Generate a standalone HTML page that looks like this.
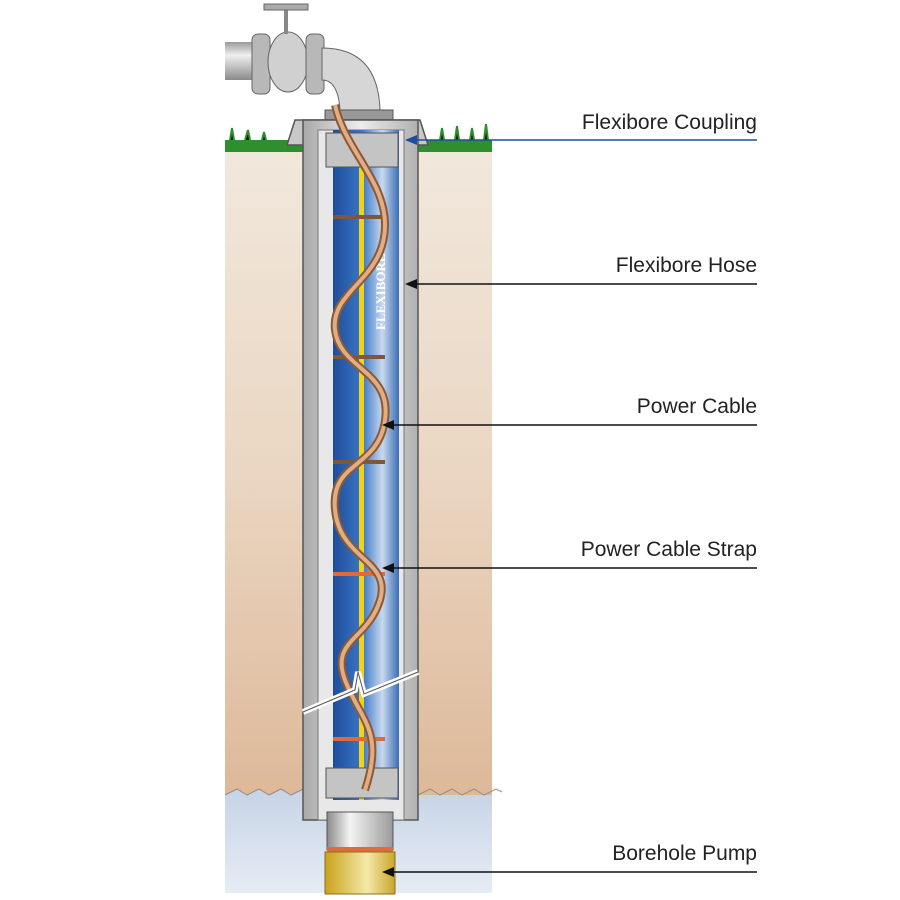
<!DOCTYPE html>
<html><head><style>
body{margin:0;background:#fff;}
svg{display:block;}
text{font-family:"Liberation Sans",sans-serif;font-size:21px;fill:#222;}
</style></head><body>
<svg width="900" height="900" viewBox="0 0 900 900">
<defs>
<linearGradient id="metal" x1="0" x2="1">
<stop offset="0" stop-color="#8a8a8a"/><stop offset="0.35" stop-color="#f4f4f4"/><stop offset="1" stop-color="#9a9a9a"/></linearGradient>
<linearGradient id="pipe" x1="0" y1="0" x2="0" y2="1">
<stop offset="0" stop-color="#9a9a9a"/><stop offset="0.35" stop-color="#f0f0f0"/><stop offset="1" stop-color="#8a8a8a"/></linearGradient>
<linearGradient id="casing" x1="0" x2="1">
<stop offset="0" stop-color="#a8a8a8"/><stop offset="0.5" stop-color="#ededed"/><stop offset="1" stop-color="#b0b0b0"/></linearGradient>
<linearGradient id="blue" x1="0" x2="1">
<stop offset="0" stop-color="#1e4d9a"/><stop offset="0.45" stop-color="#3a78c8"/><stop offset="0.75" stop-color="#c9d9ee"/><stop offset="1" stop-color="#3a6db5"/></linearGradient>
<linearGradient id="soil" x1="0" y1="0" x2="0" y2="1">
<stop offset="0" stop-color="#f1e8dc"/><stop offset="0.5" stop-color="#ead6c2"/><stop offset="1" stop-color="#ddb898"/></linearGradient>
<linearGradient id="water" x1="0" y1="0" x2="0" y2="1">
<stop offset="0" stop-color="#c6d3e6"/><stop offset="1" stop-color="#e6ecf4"/></linearGradient>
<linearGradient id="yel" x1="0" x2="1">
<stop offset="0" stop-color="#c9a21c"/><stop offset="0.6" stop-color="#f5e9a8"/><stop offset="1" stop-color="#caa52a"/></linearGradient>
</defs>
<rect x="225" y="148" width="267" height="652" fill="url(#soil)"/>
<path d="M225 795 l12 -6 l10 6 l12 -6 l10 6 l12 -6 l10 6 l12 -6 l10 6 L492 795 L492 893 L225 893Z" fill="url(#water)"/>
<path d="M225 795 l12 -6 l10 6 l12 -6 l10 6 l12 -6 l10 6 l12 -6 l10 6" fill="none" stroke="#9a8c80"/>
<path d="M418 795 l12 -6 l10 6 l12 -6 l10 6 l12 -6 l10 6 l12 -6 l6 3" fill="none" stroke="#9a8c80"/>
<rect x="225" y="140" width="267" height="12" fill="#2f8f2e"/>
<path d="M230 140 l2 -12 l2 12 M245 140 l3 -10 l2 10 M262 140 l2 -8 l2 8 M440 140 l2 -12 l2 12 M455 140 l2 -14 l2 14 M470 140 l2 -12 l2 12 M484 140 l2 -16 l2 16" stroke="#2f8f2e" stroke-width="2"/>
<!-- pipe -->
<rect x="225" y="42" width="30" height="38" fill="url(#pipe)"/>
<rect x="252" y="34" width="18" height="60" rx="6" fill="#b8b8b8" stroke="#666"/>
<ellipse cx="288" cy="62" rx="20" ry="30" fill="#d0d0d0" stroke="#666"/>
<rect x="306" y="34" width="18" height="60" rx="6" fill="#b8b8b8" stroke="#666"/>
<rect x="284" y="10" width="4" height="24" fill="#888"/>
<rect x="264" y="4" width="44" height="6" fill="#aaa" stroke="#666"/>
<path d="M322 48 Q378 48 380 110 L340 110 Q338 80 322 80Z" fill="#d6d6d6" stroke="#666"/>
<rect x="325" y="110" width="68" height="10" fill="#999" stroke="#555"/>
<path d="M287 145 L295 120 L420 120 L428 145Z" fill="#c8c8c8" stroke="#555" stroke-width="1.5"/>
<rect x="303" y="120" width="115" height="700" fill="url(#casing)" stroke="#555" stroke-width="1.5"/>
<rect x="318" y="130" width="86" height="690" fill="#e8e8e8" stroke="#777"/>
<rect x="333" y="130" width="66" height="670" fill="url(#blue)"/>
<rect x="359" y="150" width="5" height="650" fill="#f2d21a"/>
<text x="0" y="0" transform="translate(385,330) rotate(-90)" style="font-size:13px;font-weight:bold;fill:#fff;font-family:'Liberation Serif',serif">FLEXIBORE</text>
<rect x="326" y="133" width="72" height="34" fill="#c4c4c4" stroke="#555"/>
<rect x="326" y="768" width="72" height="30" fill="#c4c4c4" stroke="#555"/>
<g stroke-width="4">
<line x1="333" y1="217" x2="385" y2="217" stroke="#7a5a3a"/>
<line x1="333" y1="357" x2="385" y2="357" stroke="#7a5a3a"/>
<line x1="333" y1="462" x2="385" y2="462" stroke="#7a5a3a"/>
<line x1="333" y1="574" x2="385" y2="574" stroke="#e06a3a"/>
<line x1="333" y1="739" x2="385" y2="739" stroke="#e06a3a"/>
</g>
<path id="cab" d="M335 105 C345 150 385 180 385 225 C385 280 330 290 335 330 C340 370 392 370 385 420 C378 470 330 460 335 510 C340 560 392 560 380 600 C368 640 330 640 345 680 C360 720 385 730 365 790" fill="none" stroke="#8a5a34" stroke-width="8"/>
<path d="M335 105 C345 150 385 180 385 225 C385 280 330 290 335 330 C340 370 392 370 385 420 C378 470 330 460 335 510 C340 560 392 560 380 600 C368 640 330 640 345 680 C360 720 385 730 365 790" fill="none" stroke="#e0ad86" stroke-width="4"/>
<path d="M303 712 L355 690 L358 672 L364 694 L418 672" fill="none" stroke="#fff" stroke-width="6"/>
<path d="M303 712 L355 690 L358 672 L364 694 L418 672" fill="none" stroke="#555" stroke-width="1"/>
<rect x="327" y="812" width="66" height="38" fill="url(#metal)" stroke="#555"/>
<rect x="327" y="847" width="66" height="5" fill="#e06a3a"/>
<rect x="325" y="852" width="70" height="42" fill="url(#yel)" stroke="#8a7020"/>
<g text-anchor="end">
<text x="757" y="129">Flexibore Coupling</text>
<text x="757" y="272">Flexibore Hose</text>
<text x="757" y="413">Power Cable</text>
<text x="757" y="556">Power Cable Strap</text>
<text x="757" y="860">Borehole Pump</text>
</g>
<g stroke-width="1.5">
<line x1="412" y1="140" x2="757" y2="140" stroke="#1f4f9a"/>
<line x1="412" y1="284" x2="757" y2="284" stroke="#111"/>
<line x1="389" y1="425" x2="757" y2="425" stroke="#111"/>
<line x1="389" y1="568" x2="757" y2="568" stroke="#111"/>
<line x1="389" y1="872" x2="757" y2="872" stroke="#111"/>
</g>
<path d="M405 140 l12 -5 v10z" fill="#1f4f9a"/>
<path d="M405 284 l12 -5 v10z" fill="#111"/>
<path d="M382 425 l12 -5 v10z" fill="#111"/>
<path d="M382 568 l12 -5 v10z" fill="#111"/>
<path d="M382 872 l12 -5 v10z" fill="#111"/>
</svg>
</body></html>
